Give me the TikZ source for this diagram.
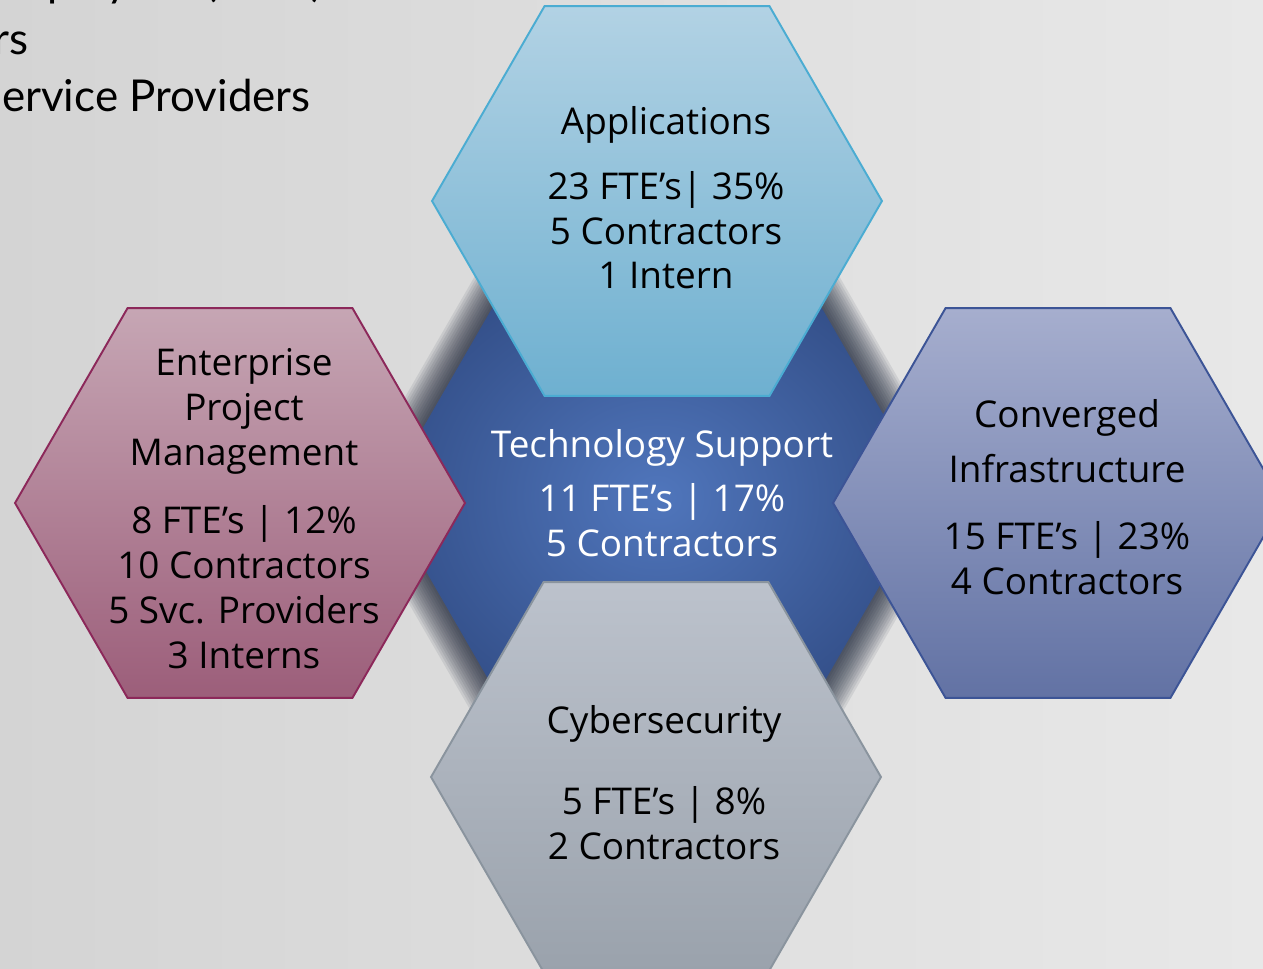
\documentclass[tikz,border=0pt]{standalone}
\usepackage{fontspec}
\setmainfont{Open Sans}
\newfontfamily\slidefont{Lato}
\usetikzlibrary{shapes.geometric}

\definecolor{bgleft}{RGB}{212,212,212}
\definecolor{bgright}{RGB}{232,232,232}
\definecolor{apptop}{RGB}{178,210,228}
\definecolor{appbot}{RGB}{110,176,208}
\definecolor{appline}{RGB}{75,172,210}
\definecolor{eptop}{RGB}{198,166,180}
\definecolor{epbot}{RGB}{156,94,122}
\definecolor{epline}{RGB}{140,40,90}
\definecolor{cvtop}{RGB}{166,174,206}
\definecolor{cvbot}{RGB}{98,114,164}
\definecolor{cvline}{RGB}{60,84,150}
\definecolor{cytop}{RGB}{188,194,204}
\definecolor{cybot}{RGB}{154,162,172}
\definecolor{cyline}{RGB}{138,148,158}
\definecolor{techin}{RGB}{80,118,188}
\definecolor{techout}{RGB}{52,80,138}
\definecolor{glow}{RGB}{20,28,48}

\tikzset{
  hexa/.style={regular polygon, regular polygon sides=6, minimum size=9cm,
    inner sep=0pt, outer sep=0pt, line width=1.1pt},
  hextext/.style={align=center, inner sep=0pt, anchor=base,
    font=\fontsize{21}{25.6}\selectfont},
  slidetext/.style={anchor=base east, inner sep=0pt,
    font=\slidefont\fontsize{25}{30}\selectfont}
}

\begin{document}
\begin{tikzpicture}[x=0.02cm, y=-0.02cm]
  % page and background
  \useasboundingbox (0,0) rectangle (1263,969);
  \clip (0,0) rectangle (1263,969);
  \fill[left color=bgleft, right color=bgright] (0,0) rectangle (1263,969);

  % slide text behind the diagram
  \node[slidetext] (fte) at (323,-3) {Employees (FTEs)};
  \node[slidetext] (contr) at (29,55) {Contractors};
  \node[slidetext] (svc) at (311,112) {Service Providers};

  % glow round the middle hexagon
  \foreach \i in {0,...,13}
    \node[hexa, minimum size=10.96cm+\i*0.11cm, fill=glow, fill opacity=0.085]
      at (657,497) {};

  % middle hexagon
  \node[hexa, minimum size=10.96cm, inner color=techin, outer color=techout]
    (tech) at (657,497) {};

  % outer hexagons
  \node[hexa, draw=appline, top color=apptop, bottom color=appbot] (apps) at (657,201) {};
  \node[hexa, draw=cyline, top color=cytop, bottom color=cybot] (cyber) at (656,777) {};
  \node[hexa, draw=epline, top color=eptop, bottom color=epbot] (epm) at (240,503) {};
  \node[hexa, draw=cvline, top color=cvtop, bottom color=cvbot] (conv) at (1058,503) {};

  % texts (anchored on the last line)
  \node[hextext] (apps-txt) at (666,289) {Applications\\[11.4pt]
    23 FTE’s| 35\%\\ 5 Contractors\\ 1 Intern};
  \node[hextext, text=white] (tech-txt) at (662,556) {Technology Support\\[5pt]
    11 FTE’s | 17\%\\ 5 Contractors};
  \node[hextext] (conv-txt) at (1067,594) {Converged\\[5.7pt]
    Infrastructure\\[12.5pt] 15 FTE’s | 23\%\\ 4 Contractors};
  \node[hextext] (epm-txt) at (244,668) {Enterprise\\ Project\\ Management\\[13pt]
    8 FTE’s | 12\%\\ 10 Contractors\\ 5 Svc. Providers\\ 3 Interns};
  \node[hextext] (cyber-txt) at (664,859) {Cybersecurity\\[20pt]
    5 FTE’s | 8\%\\ 2 Contractors};
\end{tikzpicture}
\end{document}
